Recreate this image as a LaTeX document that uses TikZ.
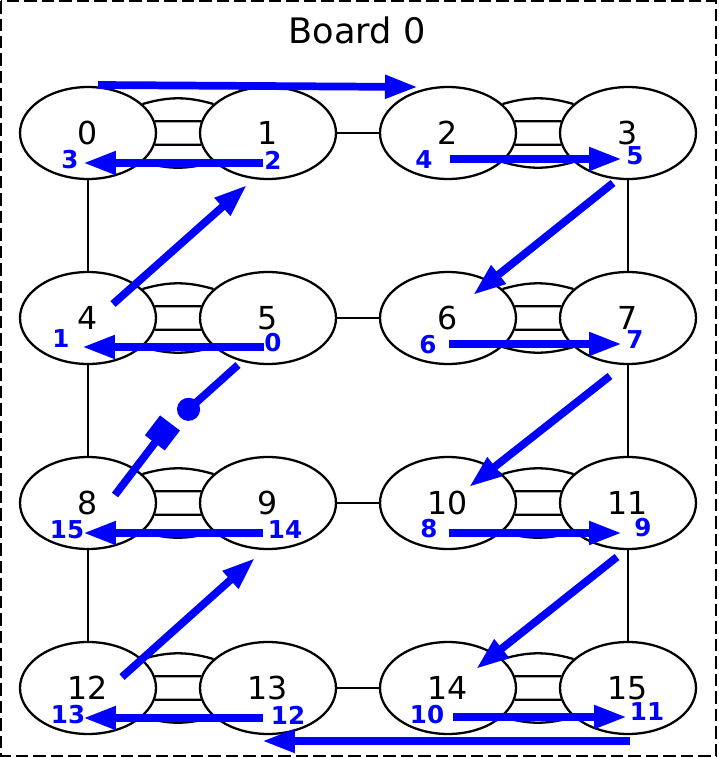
\documentclass[tikz,border=0pt]{standalone}
\usepackage{fontspec}
\setmainfont{DejaVu Sans}
\usetikzlibrary{shapes.geometric,arrows.meta}

\begin{document}
\begin{tikzpicture}[x=0.02cm, y=-0.02cm,
  core/.style={ellipse, draw, line width=1.3pt, fill=white, minimum width=2.72cm, minimum height=1.84cm, inner sep=0pt, font=\fontsize{18}{21}\selectfont},
  link/.style={line width=1.3pt},
  route/.style={blue, line width=4.4pt, -{Triangle[length=0.66cm,width=0.44cm]}},
  hop/.style={text=blue, inner sep=0pt, font=\bfseries\fontsize{14}{16}\selectfont}]
\useasboundingbox (0,0) rectangle (718,758);

% Board frame
\draw[line width=1.4pt, dash pattern=on 0.25cm off 0.1cm] (1,1) rectangle (716,756);
\node[font=\fontsize{20}{24}\selectfont] (title) at (357,30) {Board 0};

% Cores
\node[core] (n0) at (88,133) {0};
\node[core] (n1) at (268,133) {1};
\node[core] (n2) at (448,133) {2};
\node[core] (n3) at (628,133) {3};
\node[core] (n4) at (88,318) {4};
\node[core] (n5) at (268,318) {5};
\node[core] (n6) at (448,318) {6};
\node[core] (n7) at (628,318) {7};
\node[core] (n8) at (88,503) {8};
\node[core] (n9) at (268,503) {9};
\node[core] (n10) at (448,503) {10};
\node[core] (n11) at (628,503) {11};
\node[core] (n12) at (88,688) {12};
\node[core] (n13) at (268,688) {13};
\node[core] (n14) at (448,688) {14};
\node[core] (n15) at (628,688) {15};

% Quad links inside each pair
\draw[link] (n0.28) to[bend left=16] (n1.152) (n0.10) -- (n1.170) (n0.-10) -- (n1.-170) (n0.-28) to[bend right=16] (n1.-152);
\draw[link] (n2.28) to[bend left=16] (n3.152) (n2.10) -- (n3.170) (n2.-10) -- (n3.-170) (n2.-28) to[bend right=16] (n3.-152);
\draw[link] (n4.28) to[bend left=16] (n5.152) (n4.10) -- (n5.170) (n4.-10) -- (n5.-170) (n4.-28) to[bend right=16] (n5.-152);
\draw[link] (n6.28) to[bend left=16] (n7.152) (n6.10) -- (n7.170) (n6.-10) -- (n7.-170) (n6.-28) to[bend right=16] (n7.-152);
\draw[link] (n8.28) to[bend left=16] (n9.152) (n8.10) -- (n9.170) (n8.-10) -- (n9.-170) (n8.-28) to[bend right=16] (n9.-152);
\draw[link] (n10.28) to[bend left=16] (n11.152) (n10.10) -- (n11.170) (n10.-10) -- (n11.-170) (n10.-28) to[bend right=16] (n11.-152);
\draw[link] (n12.28) to[bend left=16] (n13.152) (n12.10) -- (n13.170) (n12.-10) -- (n13.-170) (n12.-28) to[bend right=16] (n13.-152);
\draw[link] (n14.28) to[bend left=16] (n15.152) (n14.10) -- (n15.170) (n14.-10) -- (n15.-170) (n14.-28) to[bend right=16] (n15.-152);

% Single links
\draw[link] (n1) -- (n2) (n5) -- (n6) (n9) -- (n10) (n13) -- (n14);
\draw[link] (n0) -- (n4) (n4) -- (n8) (n8) -- (n12);
\draw[link] (n3) -- (n7) (n7) -- (n11) (n11) -- (n15);

% Ring route (blue)
\draw[route] ([shift={(-4,29)}]n5.center) -- ([shift={(-6,29)}]n4.center);
\draw[route] ([shift={(25,-14)}]n4.center) -- ([shift={(-21,52)}]n1.center);
\draw[route] ([shift={(-5,30)}]n1.center) -- ([shift={(-5,30)}]n0.center);
\draw[route] ([shift={(10,-48)}]n0.center) -- ([shift={(-30,-46)}]n2.center);
\draw[route] ([shift={(2,26)}]n2.center) -- ([shift={(-6,26)}]n3.center);
\draw[route] ([shift={(-15,50)}]n3.center) -- ([shift={(25,-23)}]n6.center);
\draw[route] ([shift={(1,26)}]n6.center) -- ([shift={(-6,26)}]n7.center);
\draw[route] ([shift={(-18,58)}]n7.center) -- ([shift={(21,-16)}]n10.center);
\draw[route] ([shift={(1,30)}]n10.center) -- ([shift={(-6,30)}]n11.center);
\draw[route] ([shift={(-11,54)}]n11.center) -- ([shift={(28,-19)}]n14.center);
\draw[route] ([shift={(5,29)}]n14.center) -- ([shift={(-1,29)}]n15.center);
\draw[route] ([shift={(2,53)}]n15.center) -- ([shift={(-6,53)}]n13.center);
\draw[route] ([shift={(-5,30)}]n13.center) -- ([shift={(-5,30)}]n12.center);
\draw[route] ([shift={(34,-11)}]n12.center) -- ([shift={(-13,55)}]n9.center);
\draw[route] ([shift={(-5,30)}]n9.center) -- ([shift={(-5,30)}]n8.center);

% Broken return 8 -> 5
\coordinate (cut5) at (180,417);
\coordinate (cut8) at (170,423);
\draw[blue, line width=4.4pt, -{Circle[length=0.46cm]}] ([shift={(-30,47)}]n5.center) -- (cut5);
\draw[blue, line width=4.4pt, -{Square[length=0.5cm,width=0.5cm]}] ([shift={(27,-8)}]n8.center) -- (cut8);

% Hop numbers
\node[hop] (h3) at (70,160) {3};
\node[hop] (h2) at (273,160) {2};
\node[hop] (h4) at (424,160) {4};
\node[hop] (h5) at (635,156) {5};
\node[hop] (h1) at (61,339) {1};
\node[hop] (h0) at (273,343) {0};
\node[hop] (h6) at (428,345) {6};
\node[hop] (h7) at (635,340) {7};
\node[hop] (h15) at (67,530) {15};
\node[hop] (h14) at (285,530) {14};
\node[hop] (h8) at (429,529) {8};
\node[hop] (h9) at (643,528) {9};
\node[hop] (h13) at (68,715) {13};
\node[hop] (h12) at (288,715) {12};
\node[hop] (h10) at (427,715) {10};
\node[hop] (h11) at (647,712) {11};

\end{tikzpicture}
\end{document}
